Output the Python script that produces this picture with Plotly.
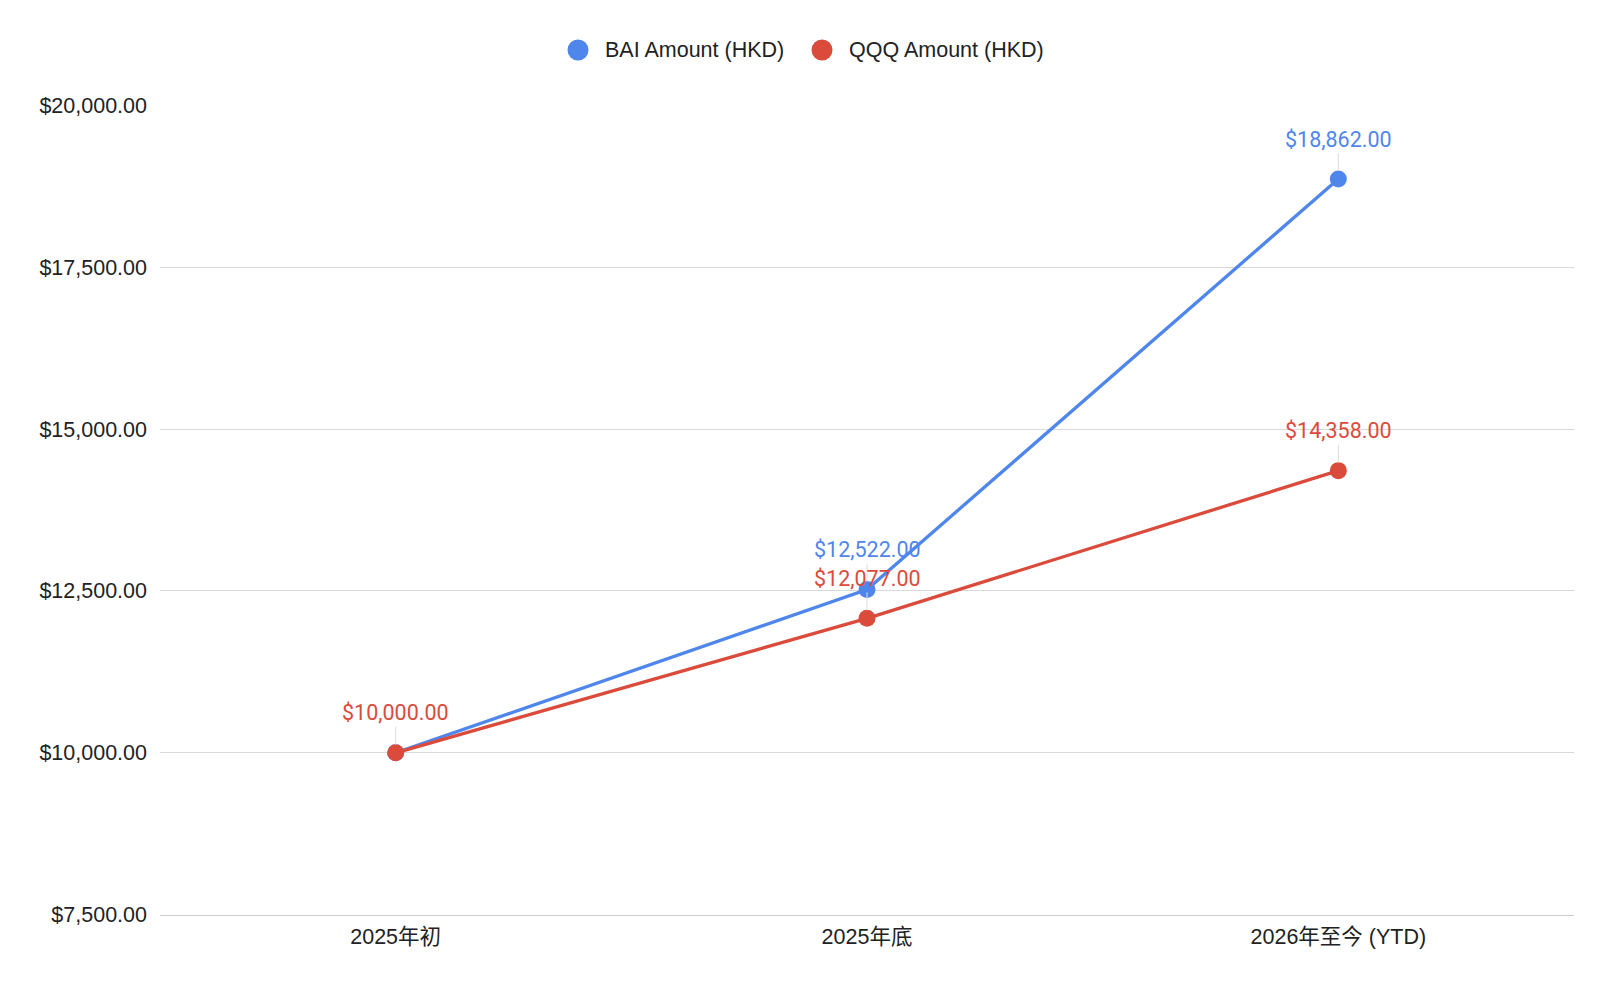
import plotly.graph_objects as go

categories = ["2025年初", "2025年底", "2026年至今 (YTD)"]
bai_values = [10000, 12522, 18862]
qqq_values = [10000, 12077, 14358]
series_names = ["BAI Amount (HKD)", "QQQ Amount (HKD)"]
y_ticks = [7500, 10000, 12500, 15000, 17500, 20000]

BLUE = "#4f86ec"
RED = "#db4b3c"
TICK_FONT = dict(family="Liberation Sans, Arial, Noto Sans CJK SC", size=21.5, color="#222222")

W, H = 1618, 988
ML, MR, MT, MB = 160, 44, 105, 73
PW, PH = W - ML - MR, H - MT - MB

fig = go.Figure()
series = [(series_names[0], bai_values, BLUE), (series_names[1], qqq_values, RED)]

for name, vals, col in series:
    fig.add_trace(go.Scatter(
        x=categories, y=vals, mode="lines+markers", name=name, showlegend=False,
        line=dict(color=col, width=3.3), marker=dict(color=col, size=17),
        hoverinfo="skip"))

# data labels with leader lines
for si, (name, vals, col) in enumerate(series):
    other = series[1 - si][1]
    for i, (c, v) in enumerate(zip(categories, vals)):
        if si == 0 and v == other[i]:
            continue  # hidden behind the identical label of the other series
        fig.add_annotation(
            x=c, y=v, xref="x", yref="y", text=f"${v:,.2f}",
            showarrow=True, ax=0, ay=-40, arrowhead=0, arrowwidth=1,
            arrowcolor="#dddddd", standoff=8,
            font=dict(family="Roboto", size=21.5, color=col))

# custom legend (large circle symbols)
def px_x(p):
    return (p - ML) / PW

def px_y(p):
    return (H - MB - p) / PH

legend_y = 50
legend_items = [(series_names[0], BLUE, 578), (series_names[1], RED, 822)]
for name, col, cx in legend_items:
    r = 10.5
    fig.add_shape(type="circle", xref="paper", yref="paper",
                  x0=px_x(cx - r), x1=px_x(cx + r), y0=px_y(legend_y + r), y1=px_y(legend_y - r),
                  fillcolor=col, line=dict(width=0))
    fig.add_annotation(x=px_x(cx + 25), y=px_y(legend_y), xref="paper", yref="paper",
                       text=name, showarrow=False, xanchor="left", yanchor="middle",
                       font=dict(family="Liberation Sans, Arial", size=21.5, color="#222222"))

fig.update_layout(
    width=W, height=H,
    paper_bgcolor="white", plot_bgcolor="white",
    margin=dict(l=ML, r=MR, t=MT, b=MB),
    showlegend=False,
    hovermode=False,
)

fig.update_xaxes(range=[-0.5, 2.5], showgrid=False, showline=True, linecolor="#cccccc",
                 linewidth=1, ticks="", tickfont=TICK_FONT, ticklabelstandoff=2, fixedrange=True)
fig.update_yaxes(range=[7495, 20005], tickvals=y_ticks, tickformat="$,.2f",
                 showgrid=True, gridcolor="#d9d9d9", gridwidth=1, zeroline=False,
                 showline=False, tickfont=TICK_FONT, ticklabelstandoff=12, fixedrange=True)

fig.write_html("out.html")
